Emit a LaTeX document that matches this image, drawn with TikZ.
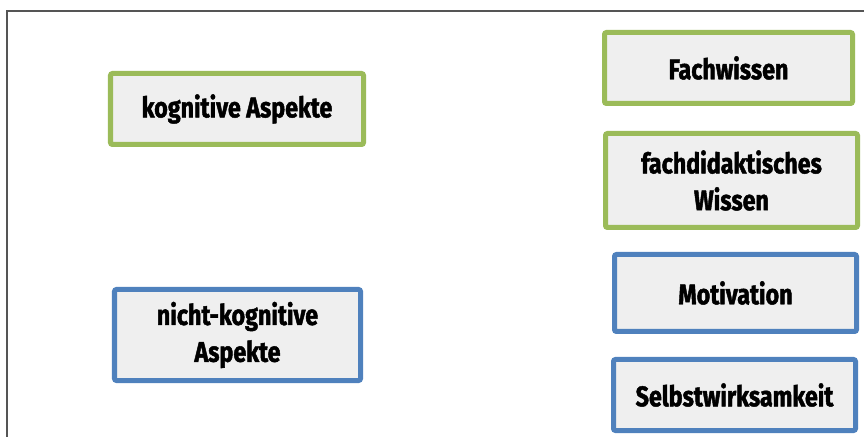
\documentclass[tikz,border=0pt]{standalone}
\usepackage{fontspec}
\setmainfont{Fira Sans}[FakeStretch=0.82, BoldFeatures={FakeBold=1.6}]
\usepackage{xcolor}
\usepackage{tikz}
\usetikzlibrary{positioning}
\definecolor{kogGreen}{RGB}{155,187,89}
\definecolor{nkogBlue}{RGB}{79,129,189}
\definecolor{boxFill}{RGB}{239,239,239}
\definecolor{frameGray}{RGB}{85,85,85}

\begin{document}
\begin{tikzpicture}[x=1bp, y=-1bp,
    aspectbox/.style={rectangle, rounded corners=2bp, line width=5bp, fill=boxFill,
        align=center, inner sep=0pt, font=\bfseries\fontsize{28.5}{37}\selectfont},
    kogbox/.style={aspectbox, draw=kogGreen},
    nkogbox/.style={aspectbox, draw=nkogBlue}]
    \useasboundingbox (0, 0) rectangle (864, 437);
    \draw [line width=1.5bp, frameGray] (7, 437) -- (7, 11) -- (864, 11); % frame
    % left column
    \node [kogbox, minimum width=253bp, minimum height=71bp] (kog) at (237, 109) {kognitive Aspekte};
    \node [nkogbox, minimum width=246bp, minimum height=91bp] (nkog) at (237.5, 335) {nicht-kognitive\\Aspekte};
    % right column
    \node [kogbox, minimum width=248bp, minimum height=71bp] (fach) at (728.5, 68) {Fachwissen};
    \node [kogbox, minimum width=252bp, minimum height=94bp] (didak) at (731.5, 180.5) {fachdidaktisches\\Wissen};
    \node [nkogbox, minimum width=242bp, minimum height=77bp] (motiv) at (735.5, 293) {Motivation};
    \node [nkogbox, minimum width=242bp, minimum height=71bp] (selbst) at (734.5, 395) {Selbstwirksamkeit};
\end{tikzpicture}
\end{document}
